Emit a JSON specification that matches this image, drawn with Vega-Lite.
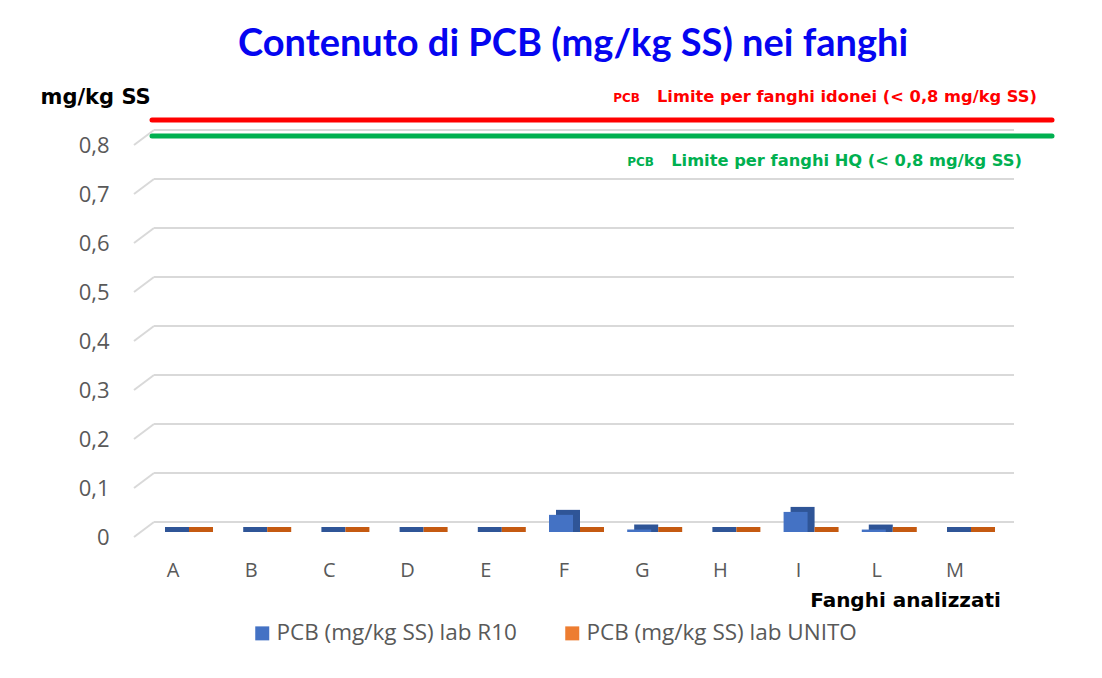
{
  "$schema": "https://vega.github.io/schema/vega-lite/v6.json",
  "width": 860,
  "height": 392,
  "autosize": "none",
  "padding": {"left": 134, "top": 145, "right": 108, "bottom": 141},
  "background": "white",
  "config": {"view": {"stroke": null}},
  "title": {
    "text": "Contenuto di PCB (mg/kg SS) nei fanghi",
    "font": "Lato",
    "fontSize": 38,
    "fontWeight": "bold",
    "color": "#0505F0",
    "anchor": "middle",
    "frame": "group",
    "dx": 9,
    "offset": 22
  },
  "datasets": {
    "fanghi": [
      {"fango": "A", "lab": "PCB (mg/kg SS) lab R10", "valore": 0},
      {"fango": "A", "lab": "PCB (mg/kg SS) lab UNITO", "valore": 0},
      {"fango": "B", "lab": "PCB (mg/kg SS) lab R10", "valore": 0},
      {"fango": "B", "lab": "PCB (mg/kg SS) lab UNITO", "valore": 0},
      {"fango": "C", "lab": "PCB (mg/kg SS) lab R10", "valore": 0},
      {"fango": "C", "lab": "PCB (mg/kg SS) lab UNITO", "valore": 0},
      {"fango": "D", "lab": "PCB (mg/kg SS) lab R10", "valore": 0},
      {"fango": "D", "lab": "PCB (mg/kg SS) lab UNITO", "valore": 0},
      {"fango": "E", "lab": "PCB (mg/kg SS) lab R10", "valore": 0},
      {"fango": "E", "lab": "PCB (mg/kg SS) lab UNITO", "valore": 0},
      {"fango": "F", "lab": "PCB (mg/kg SS) lab R10", "valore": 0.035},
      {"fango": "F", "lab": "PCB (mg/kg SS) lab UNITO", "valore": 0},
      {"fango": "G", "lab": "PCB (mg/kg SS) lab R10", "valore": 0.005},
      {"fango": "G", "lab": "PCB (mg/kg SS) lab UNITO", "valore": 0},
      {"fango": "H", "lab": "PCB (mg/kg SS) lab R10", "valore": 0},
      {"fango": "H", "lab": "PCB (mg/kg SS) lab UNITO", "valore": 0},
      {"fango": "I", "lab": "PCB (mg/kg SS) lab R10", "valore": 0.041},
      {"fango": "I", "lab": "PCB (mg/kg SS) lab UNITO", "valore": 0},
      {"fango": "L", "lab": "PCB (mg/kg SS) lab R10", "valore": 0.005},
      {"fango": "L", "lab": "PCB (mg/kg SS) lab UNITO", "valore": 0},
      {"fango": "M", "lab": "PCB (mg/kg SS) lab R10", "valore": 0},
      {"fango": "M", "lab": "PCB (mg/kg SS) lab UNITO", "valore": 0}
    ],
    "griglia": [
      {"valore": 0}, {"valore": 0.1}, {"valore": 0.2}, {"valore": 0.3}, {"valore": 0.4},
      {"valore": 0.5}, {"valore": 0.6}, {"valore": 0.7}, {"valore": 0.8}
    ],
    "limiti": [
      {"limite": "idonei", "valore": 0.8},
      {"limite": "HQ", "valore": 0.8}
    ]
  },
  "encoding": {
    "y": {
      "field": "valore",
      "type": "quantitative",
      "stack": null,
      "scale": {"domain": [0, 0.8], "nice": false},
      "axis": {
        "title": "mg/kg SS",
        "titleAngle": 0,
        "titleX": -94,
        "titleY": -48,
        "titleAlign": "left",
        "titleBaseline": "middle",
        "titleFont": "DejaVu Sans",
        "titleFontWeight": "bold",
        "titleFontSize": 21,
        "titleColor": "#000000",
        "values": [0, 0.1, 0.2, 0.3, 0.4, 0.5, 0.6, 0.7, 0.8],
        "labelExpr": "datum.value == 0 ? '0' : replace(format(datum.value, '.1f'), '.', ',')",
        "labelFont": "Open Sans",
        "labelFontSize": 22,
        "labelColor": "#595959",
        "labelPadding": 25,
        "domain": false,
        "ticks": false,
        "tickSize": 0,
        "grid": false
      }
    }
  },
  "resolve": {
    "scale": {"x": "independent", "xOffset": "independent", "color": "independent"},
    "axis": {"x": "independent"},
    "legend": {"color": "independent"}
  },
  "layer": [
    {
      "data": {"name": "griglia"},
      "mark": {"type": "rule", "color": "#D9D9D9", "strokeWidth": 2, "xOffset": 20, "x2Offset": 20, "yOffset": -15},
      "encoding": {
        "x": {"datum": 0, "type": "quantitative", "scale": {"domain": [0, 1]}, "axis": null},
        "x2": {"datum": 1}
      }
    },
    {
      "data": {"name": "griglia"},
      "mark": {"type": "rule", "color": "#D9D9D9", "strokeWidth": 2, "x2Offset": 20, "y2Offset": -15},
      "encoding": {
        "x": {"datum": 0, "type": "quantitative", "scale": {"domain": [0, 1]}, "axis": null},
        "x2": {"datum": 0},
        "y2": {"field": "valore"}
      }
    },
    {
      "data": {"name": "limiti"},
      "transform": [{"filter": "datum.limite == 'idonei'"}],
      "mark": {"type": "rule", "color": "#FF0000", "strokeWidth": 5, "strokeCap": "round", "xOffset": 18, "x2Offset": 58, "yOffset": -25},
      "encoding": {
        "x": {"datum": 0, "type": "quantitative", "scale": {"domain": [0, 1]}, "axis": null},
        "x2": {"datum": 1}
      }
    },
    {
      "data": {"name": "limiti"},
      "transform": [{"filter": "datum.limite == 'idonei'"}],
      "mark": {"type": "text", "text": "Limite per fanghi idonei (< 0,8 mg/kg SS)", "align": "right", "baseline": "middle", "dx": 43, "dy": -48, "font": "DejaVu Sans", "fontWeight": "bold", "fontSize": 16.3, "color": "#FF0000"},
      "encoding": {
        "x": {"datum": 1, "type": "quantitative", "scale": {"domain": [0, 1]}, "axis": null}
      }
    },
    {
      "data": {"name": "limiti"},
      "transform": [{"filter": "datum.limite == 'idonei'"}],
      "mark": {"type": "text", "text": "PCB", "align": "right", "baseline": "middle", "dx": -354, "dy": -47, "font": "DejaVu Sans", "fontWeight": "bold", "fontSize": 12, "color": "#FF0000"},
      "encoding": {
        "x": {"datum": 1, "type": "quantitative", "scale": {"domain": [0, 1]}, "axis": null}
      }
    },
    {
      "data": {"name": "limiti"},
      "transform": [{"filter": "datum.limite == 'HQ'"}],
      "mark": {"type": "rule", "color": "#00B050", "strokeWidth": 5, "strokeCap": "round", "xOffset": 18, "x2Offset": 58, "yOffset": -9},
      "encoding": {
        "x": {"datum": 0, "type": "quantitative", "scale": {"domain": [0, 1]}, "axis": null},
        "x2": {"datum": 1}
      }
    },
    {
      "data": {"name": "limiti"},
      "transform": [{"filter": "datum.limite == 'HQ'"}],
      "mark": {"type": "text", "text": "Limite per fanghi HQ (< 0,8 mg/kg SS)", "align": "right", "baseline": "middle", "dx": 28, "dy": 16, "font": "DejaVu Sans", "fontWeight": "bold", "fontSize": 16.3, "color": "#00B050"},
      "encoding": {
        "x": {"datum": 1, "type": "quantitative", "scale": {"domain": [0, 1]}, "axis": null}
      }
    },
    {
      "data": {"name": "limiti"},
      "transform": [{"filter": "datum.limite == 'HQ'"}],
      "mark": {"type": "text", "text": "PCB", "align": "right", "baseline": "middle", "dx": -340, "dy": 17, "font": "DejaVu Sans", "fontWeight": "bold", "fontSize": 12, "color": "#00B050"},
      "encoding": {
        "x": {"datum": 1, "type": "quantitative", "scale": {"domain": [0, 1]}, "axis": null}
      }
    },
    {
      "data": {"name": "fanghi"},
      "mark": {"type": "bar", "yOffset": -10, "y2Offset": -5},
      "encoding": {
        "x": {"field": "fango", "type": "nominal", "sort": null, "scale": {"paddingInner": 0.386, "paddingOuter": 0.192}, "axis": null},
        "xOffset": {"field": "lab", "type": "nominal", "scale": {"paddingInner": 0, "paddingOuter": 0, "range": [16, 64]}},
        "y2": {"datum": 0},
        "color": {"field": "lab", "type": "nominal", "scale": {"range": ["#2F5597", "#C55A11"]}, "legend": null}
      }
    },
    {
      "data": {"name": "fanghi"},
      "mark": {"type": "bar", "yOffset": -5, "y2Offset": -5},
      "encoding": {
        "x": {
          "field": "fango",
          "type": "nominal",
          "sort": null,
          "scale": {"paddingInner": 0.386, "paddingOuter": 0.192},
          "axis": {
            "title": "Fanghi analizzati",
            "titleX": 771,
            "titleY": 63,
            "titleAlign": "center",
            "titleBaseline": "middle",
            "titleFont": "DejaVu Sans",
            "titleFontWeight": "bold",
            "titleFontSize": 20,
            "titleColor": "#000000",
            "labelAngle": 0,
            "labelFont": "Open Sans",
            "labelFontSize": 20,
            "labelColor": "#595959",
            "labelBaseline": "middle",
            "labelPadding": 33,
            "domain": false,
            "ticks": false,
            "tickSize": 0,
            "grid": false
          }
        },
        "xOffset": {"field": "lab", "type": "nominal", "scale": {"paddingInner": 0, "paddingOuter": 0, "range": [9, 57]}},
        "y2": {"datum": 0},
        "color": {
          "field": "lab",
          "type": "nominal",
          "scale": {"range": ["#4472C4", "#ED7D31"]},
          "legend": {
            "orient": "none",
            "legendX": 117,
            "legendY": 477,
            "direction": "horizontal",
            "title": null,
            "symbolType": "square",
            "symbolSize": 196,
            "symbolStrokeWidth": 0,
            "labelFont": "Open Sans",
            "labelFontSize": 22.5,
            "labelColor": "#595959",
            "labelOffset": 3,
            "columnPadding": 44,
            "labelLimit": 400
          }
        }
      }
    }
  ]
}
